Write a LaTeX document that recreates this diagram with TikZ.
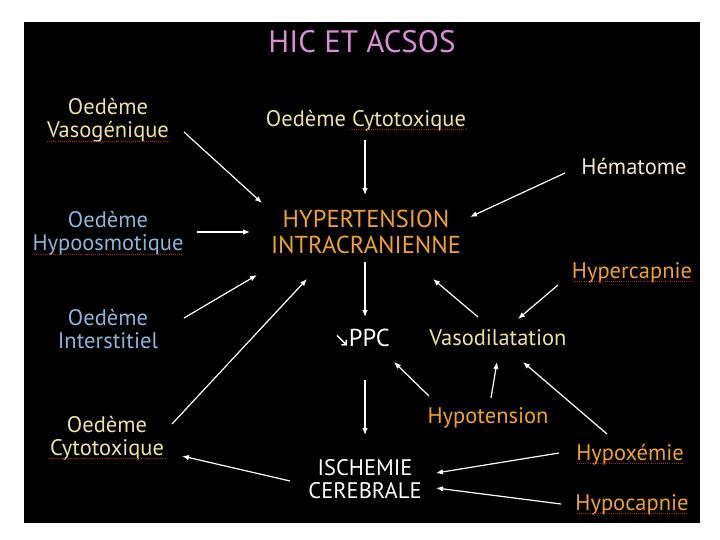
\documentclass[tikz,border=0pt]{standalone}
\usepackage{fontspec}
\setmainfont{PT Sans}
\newfontfamily\symfont{DejaVu Sans}
\usetikzlibrary{arrows.meta}
\definecolor{cream}{RGB}{236,226,162}
\definecolor{creamw}{RGB}{242,234,196}
\definecolor{lblue}{RGB}{140,180,220}
\definecolor{lorange}{RGB}{240,162,42}
\definecolor{lpink}{RGB}{218,140,212}
\definecolor{spell}{RGB}{190,30,30}
\tikzset{
  lbl/.style={inner sep=0pt, anchor=base, align=center, font=\fontsize{22.5}{23}\selectfont},
  big/.style={lbl, font=\fontsize{24.5}{25}\selectfont},
  arr/.style={draw=white, line width=1.2pt, -{Latex[length=7pt,width=5.5pt]}},
  spellline/.style={draw=spell, line width=0.9pt, dash pattern=on 0.9pt off 1.2pt}
}
\begin{document}
\begin{tikzpicture}[x=1pt,y=-1pt]
\useasboundingbox (0,0) rectangle (720,540);
\fill[white] (0,0) rectangle (720,540);
\fill[black] (24,22) rectangle (700,523);
% nodes (base = baseline of last line)
\node[lbl, text=lpink, font=\fontsize{31}{32}\selectfont] (title) at (362,53) {HIC ET ACSOS};
\node[lbl, text=cream] (vaso) at (108,138) {Oedème\\Vasogénique};
\node[lbl, text=lblue] (hypo) at (108,251) {Oedème\\Hypoosmotique};
\node[lbl, text=lblue] (inter) at (108,348) {Oedème\\Interstitiel};
\node[lbl, text=cream] (cytob) at (107,455) {Oedème\\Cytotoxique};
\node[lbl, text=cream] (cytot) at (366,127) {Oedème Cytotoxique};
\node[big, text=lorange] (hic) at (366,253) {HYPERTENSION\\INTRACRANIENNE};
\node[lbl, text=creamw] (hema) at (634,175) {Hématome};
\node[lbl, text=lorange] (hyperc) at (632,278) {Hypercapnie};
\node[big, text=white, anchor=base east] (ppc) at (390,346) {{\symfont\fontsize{19}{19}\selectfont ↘}\kern-1ptPPC};
\node[lbl, text=cream] (vasod) at (498,345) {Vasodilatation};
\node[lbl, text=lorange] (hypot) at (488,423) {Hypotension};
\node[lbl, text=white] (isch) at (365,498) {ISCHEMIE\\CEREBRALE};
\node[lbl, text=lorange] (hypox) at (630,460) {Hypoxémie};
\node[lbl, text=lorange] (hypoc) at (632,510) {Hypocapnie};
% spell-check underlines
\draw[spellline] (47,141) -- (170,141);
\draw[spellline] (32,254) -- (183,254);
\draw[spellline] (49,458) -- (165,458);
\draw[spellline] (350,129) -- (467,129);
\draw[spellline] (573,281) -- (692,281);
\draw[spellline] (577,463) -- (683,463);
\draw[spellline] (577,513) -- (688,513);
% connectors
\draw[arr] ([shift={(76,-6)}]vaso.base) -- ([shift={(-104,-50)}]hic.base);
\draw[arr] ([shift={(89,-19)}]hypo.base) -- ([shift={(-116,-21)}]hic.base);
\draw[arr] ([shift={(-1,13)}]cytot.base) -- ([shift={(-1,-58)}]hic.base);
\draw[arr] ([shift={(-69,-2)}]hema.base) -- ([shift={(104,-36)}]hic.base);
\draw[arr] ([shift={(76,-30)}]inter.base) -- ([shift={(-109,22)}]hic.base);
\draw[arr] ([shift={(65,-31)}]cytob.base) -- ([shift={(-59,26)}]hic.base);
\draw[arr] ([shift={(-1,9)}]hic.base) -- ([shift={(-25,-29)}]ppc.base east);
\draw[arr] ([shift={(-25,34)}]ppc.base east) -- ([shift={(0,-63)}]isch.base);
\draw[arr] ([shift={(-75,-17)}]isch.base) -- ([shift={(75,1)}]cytob.base);
\draw[arr] ([shift={(-20,-28)}]vasod.base) -- ([shift={(67,26)}]hic.base);
\draw[arr] ([shift={(-74,7)}]hyperc.base) -- ([shift={(20,-26)}]vasod.base);
\draw[arr] ([shift={(-59,-27)}]hypot.base) -- ([shift={(4,16)}]ppc.base east);
\draw[arr] ([shift={(3,-25)}]hypot.base) -- ([shift={(-1,17)}]vasod.base);
\draw[arr] ([shift={(-23,-26)}]hypox.base) -- ([shift={(25,17)}]vasod.base);
\draw[arr] ([shift={(-71,-7)}]hypox.base) -- ([shift={(71,-25)}]isch.base);
\draw[arr] ([shift={(-71,-6)}]hypoc.base) -- ([shift={(71,-10)}]isch.base);
\end{tikzpicture}
\end{document}
